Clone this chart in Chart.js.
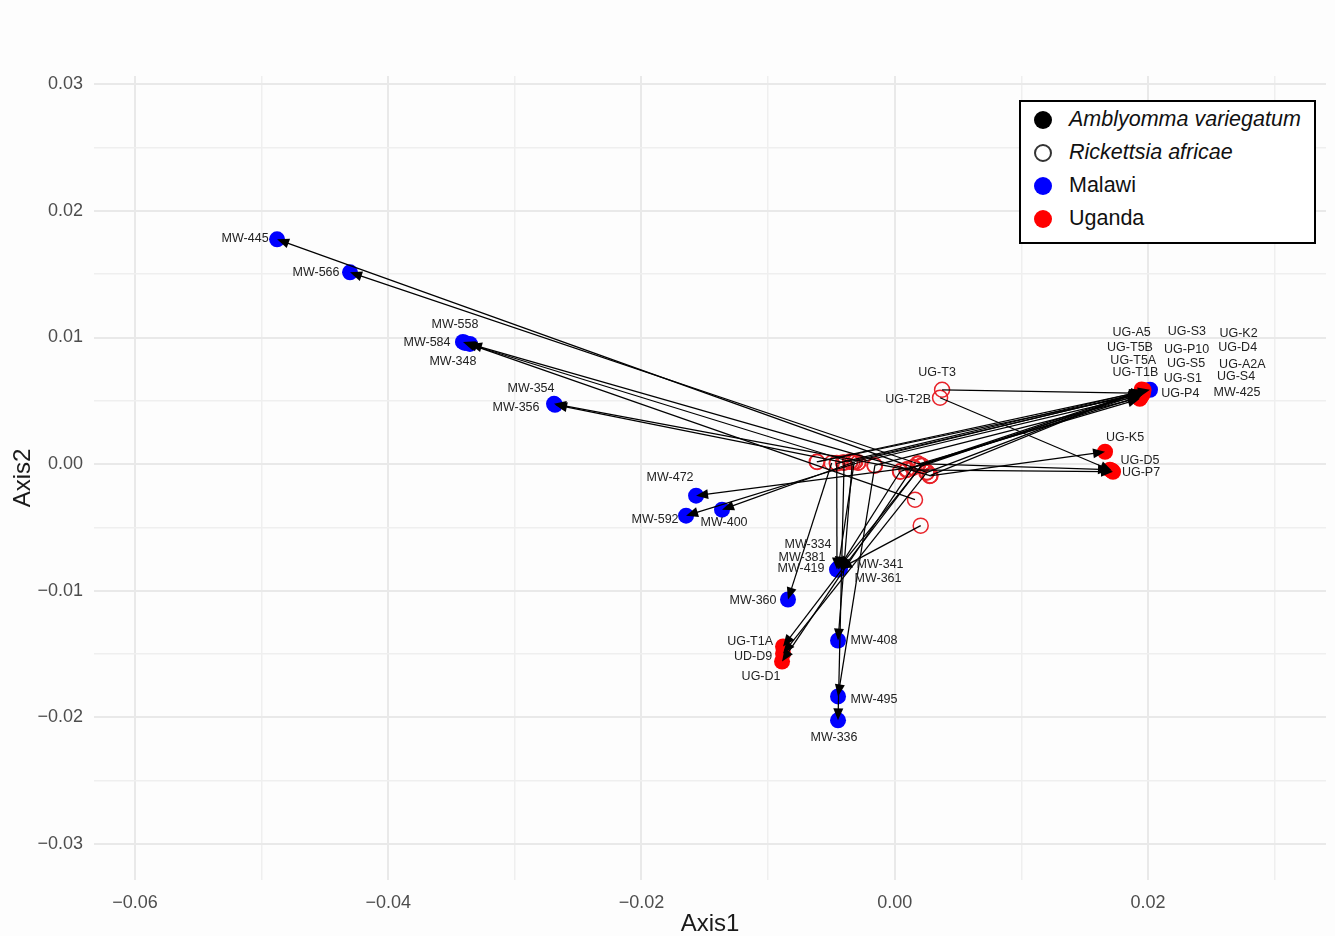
<!DOCTYPE html>
<html>
<head>
<meta charset="utf-8">
<script src="https://cdn.jsdelivr.net/npm/chart.js@4.4.1/dist/chart.umd.min.js"></script>
<style>
  html, body { margin: 0; padding: 0; background: #fdfdfd; }
  #wrap { position: relative; width: 1335px; height: 936px; }
  #legend {
    position: absolute; left: 1019px; top: 100px; width: 297px; height: 144px;
    box-sizing: border-box; border: 2.5px solid #000; background: #fff;
    font-family: "Liberation Sans", Arial, sans-serif; font-size: 21.5px; color: #111;
    padding-top: 1px;
  }
  .legend-item { height: 33px; display: flex; align-items: center; }
  .sym { width: 18px; height: 18px; border-radius: 50%; margin-left: 13px; margin-right: 17px; box-sizing: border-box; }
</style>
</head>
<body>
<div id="wrap">
  <canvas id="chart" width="1335" height="936"></canvas>
  <div id="legend"></div>
</div>
<script>
// tick labels
const xTickValues = [-0.06, -0.04, -0.02, 0, 0.02];
const yTickValues = [-0.03, -0.02, -0.01, 0, 0.01, 0.02, 0.03];

// Malawi samples: Amblyomma variegatum (filled) and Rickettsia africae (open) coordinates
const malawiNames = ["MW-445","MW-566","MW-558","MW-584","MW-348","MW-354","MW-356","MW-472","MW-592","MW-400",
                     "MW-334","MW-381","MW-419","MW-341","MW-361","MW-360","MW-408","MW-495","MW-336","MW-425"];
const malawiAmbX = [-0.04878,-0.04302,-0.03410,-0.03394,-0.03355,-0.02691,-0.02683,-0.01569,-0.01648,-0.01364,
                    -0.00448,-0.00456,-0.00440,-0.00432,-0.00448,-0.00843,-0.00448,-0.00448,-0.00448,0.02016];
const malawiAmbY = [0.01776,0.01515,0.00965,0.00957,0.00949,0.00476,0.00468,-0.00250,-0.00408,-0.00361,
                    -0.00827,-0.00834,-0.00819,-0.00827,-0.00834,-0.01071,-0.01395,-0.01837,-0.02026,0.00587];
const malawiRicX = [0.00253,0.00184,0.00160,-0.00353,0.00279,0.00095,-0.00408,0.00145,-0.00290,-0.00314,
                    -0.00320,-0.00458,0.00213,0.00205,0.00042,-0.00498,-0.00335,-0.00157,-0.00400,-0.00616];
const malawiRicY = [-0.00066,0.00002,-0.00282,0.00018,-0.00092,-0.00045,0.00013,-0.00027,0.00010,0.00018,
                    0.00015,0.00008,-0.00013,-0.00487,-0.00061,0.00008,0.00015,-0.00013,0.00010,0.00018];

// Uganda samples
const ugandaNames = ["UG-A5","UG-T5B","UG-T5A","UG-T1B","UG-S3","UG-P10","UG-S5","UG-S1","UG-P4","UG-K2","UG-D4",
                     "UG-A2A","UG-S4","UG-T3","UG-T2B","UG-K5","UG-D5","UG-P7","UG-T1A","UD-D9","UG-D1"];
const ugandaAmbX = [0.01950,0.01945,0.01955,0.01940,0.01960,0.01950,0.01945,0.01935,0.01955,0.01965,0.01950,
                    0.01940,0.01945,0.01960,0.01716,0.01661,0.01700,0.01724,-0.00882,-0.00882,-0.00890];
const ugandaAmbY = [0.00575,0.00560,0.00545,0.00525,0.00580,0.00555,0.00535,0.00515,0.00570,0.00585,0.00590,
                    0.00550,0.00565,0.00560,-0.00053,0.00097,-0.00045,-0.00061,-0.01442,-0.01497,-0.01561];
const ugandaRicX = [-0.00455,-0.00350,-0.00288,-0.00160,0.00045,0.00098,0.00148,0.00186,0.00215,0.00250,0.00282,
                    -0.00612,-0.00312,0.00374,0.00358,0.00276,0.00182,0.00093,0.00211,0.00255,0.00143];
const ugandaRicY = [0.00005,0.00020,0.00012,-0.00010,-0.00058,-0.00042,-0.00025,0.00000,-0.00015,-0.00068,-0.00090,
                    0.00016,0.00020,0.00587,0.00524,-0.00094,0.00004,-0.00047,-0.00011,-0.00064,-0.00029];

// label placement (pixel nudges from the point), labels drawn at the open circle for these
const labelAtRickettsia = ["UG-T3", "UG-T2B"];
const labelNudge = {
  "MW-445":[-32,-1],"MW-566":[-34,0],"MW-558":[-8,-17],"MW-584":[-38,0],"MW-348":[-17,18],
  "MW-354":[-23,-15],"MW-356":[-39,3],"MW-472":[-26,-18],"MW-592":[-31,4],"MW-400":[2,13],
  "MW-334":[-30,-24],"MW-381":[-35,-12],"MW-419":[-38,1],"MW-341":[40,-4],"MW-361":[40,9],
  "MW-360":[-35,1],"MW-408":[36,0],"MW-495":[36,3],"MW-336":[-4,17],"MW-425":[87,3],
  "UG-A5":[-10,-59],"UG-T5B":[-11,-46],"UG-T5A":[-9,-35],"UG-T1B":[-5,-25],"UG-S3":[44,-59],
  "UG-P10":[45,-44],"UG-S5":[45,-33],"UG-S1":[43,-20],"UG-P4":[38,2],"UG-K2":[95,-56],
  "UG-D4":[96,-42],"UG-A2A":[102,-30],"UG-S4":[95,-16],"UG-T3":[-5,-17],"UG-T2B":[-32,2],
  "UG-K5":[20,-14],"UG-D5":[30,-9],"UG-P7":[28,1],"UG-T1A":[-33,-5],"UD-D9":[-30,3],"UG-D1":[-21,15]
};

const BLUE = "#0000FF", RED = "#FF0000";
const X_MIN = -0.06324, X_MAX = 0.03406, Y_MIN = -0.03288, Y_MAX = 0.03067;

function pts(xs, ys) { return xs.map((x, i) => ({ x: x, y: ys[i] })); }

const samples = [];
malawiNames.forEach((n, i) => samples.push({ name: n, ax: malawiAmbX[i], ay: malawiAmbY[i], rx: malawiRicX[i], ry: malawiRicY[i] }));
ugandaNames.forEach((n, i) => samples.push({ name: n, ax: ugandaAmbX[i], ay: ugandaAmbY[i], rx: ugandaRicX[i], ry: ugandaRicY[i] }));

function near(v, list) { return list.some(t => Math.abs(v - t) < 1e-9); }
function fmt(v) { return (Math.abs(v) < 1e-9 ? 0 : v).toFixed(2).replace("-", "\u2212"); }

// minor grid lines halfway between labelled ticks, kept inside the panel
function withMinor(vals, lo, hi) {
  const out = [];
  const step = vals[1] - vals[0];
  for (let i = 0; i < vals.length; i++) {
    out.push(vals[i] - step / 2);
    out.push(vals[i]);
  }
  out.push(vals[vals.length - 1] + step / 2);
  return out.filter(v => v >= lo && v <= hi);
}

const arrowPlugin = {
  id: "arrows",
  afterDatasetsDraw(chart) {
    const ctx = chart.ctx, xs = chart.scales.x, ys = chart.scales.y;
    ctx.save();
    ctx.strokeStyle = "#000";
    ctx.fillStyle = "#000";
    ctx.lineWidth = 1.25;
    samples.forEach(s => {
      const x0 = xs.getPixelForValue(s.rx), y0 = ys.getPixelForValue(s.ry);
      const x1 = xs.getPixelForValue(s.ax), y1 = ys.getPixelForValue(s.ay);
      const ang = Math.atan2(y1 - y0, x1 - x0);
      const len = 12, hw = 5;
      ctx.beginPath();
      ctx.moveTo(x0, y0);
      ctx.lineTo(x1 - Math.cos(ang) * len * 0.8, y1 - Math.sin(ang) * len * 0.8);
      ctx.stroke();
      const bx = x1 - Math.cos(ang) * len, by = y1 - Math.sin(ang) * len;
      ctx.beginPath();
      ctx.moveTo(x1, y1);
      ctx.lineTo(bx - Math.sin(ang) * hw, by + Math.cos(ang) * hw);
      ctx.lineTo(bx + Math.sin(ang) * hw, by - Math.cos(ang) * hw);
      ctx.closePath();
      ctx.fill();
    });
    ctx.restore();
  },
  afterDraw(chart) {
    const ctx = chart.ctx, xs = chart.scales.x, ys = chart.scales.y;
    ctx.save();
    ctx.font = "12.5px 'Liberation Sans', Arial, sans-serif";
    ctx.fillStyle = "#222";
    ctx.textAlign = "center";
    ctx.textBaseline = "middle";
    samples.forEach(s => {
      const atRic = labelAtRickettsia.includes(s.name);
      const px = xs.getPixelForValue(atRic ? s.rx : s.ax);
      const py = ys.getPixelForValue(atRic ? s.ry : s.ay);
      const d = labelNudge[s.name] || [0, -14];
      ctx.fillText(s.name, px + d[0], py + d[1]);
    });
    ctx.restore();
  }
};

const tickFont = { family: "'Liberation Sans', Arial, sans-serif", size: 18 };
const titleFont = { family: "'Liberation Sans', Arial, sans-serif", size: 24, lineHeight: 1 };

function gridColor(labels) {
  return c => (c.tick && near(c.tick.value, labels)) ? "#e9e9e9" : "#efefef";
}
function gridWidth(labels) {
  return c => (c.tick && near(c.tick.value, labels)) ? 2 : 1.5;
}

new Chart(document.getElementById("chart"), {
  type: "scatter",
  data: {
    datasets: [
      {
        label: "Uganda",
        data: pts(ugandaAmbX, ugandaAmbY),
        backgroundColor: RED, borderColor: RED, pointRadius: 8, borderWidth: 0
      },
      {
        label: "Malawi",
        data: pts(malawiAmbX, malawiAmbY),
        backgroundColor: BLUE, borderColor: BLUE, pointRadius: 8, borderWidth: 0
      },
      {
        label: "Rickettsia africae",
        data: pts(malawiRicX.concat(ugandaRicX), malawiRicY.concat(ugandaRicY)),
        backgroundColor: "rgba(0,0,0,0)", borderColor: "#e8232a", pointRadius: 7.5, borderWidth: 1.5
      }
    ]
  },
  options: {
    responsive: false,
    animation: false,
    devicePixelRatio: 1,
    layout: { padding: { top: 76, right: 0, left: 0, bottom: 0 } },
    plugins: { legend: { display: false }, tooltip: { enabled: false } },
    scales: {
      x: {
        type: "linear",
        min: X_MIN, max: X_MAX,
        afterBuildTicks: s => { s.ticks = withMinor(xTickValues, X_MIN, X_MAX).map(v => ({ value: v })); },
        afterFit: s => { s.height = 56; },
        border: { display: false },
        grid: { drawTicks: false, color: gridColor(xTickValues), lineWidth: gridWidth(xTickValues) },
        ticks: {
          autoSkip: false, maxRotation: 0, padding: 12, color: "#4d4d4d", font: tickFont,
          callback: v => near(v, xTickValues) ? fmt(v) : ""
        },
        title: { display: true, text: "Axis1", color: "#1a1a1a", font: titleFont, padding: { top: 0, bottom: 0 } }
      },
      y: {
        type: "linear",
        min: Y_MIN, max: Y_MAX,
        afterBuildTicks: s => { s.ticks = withMinor(yTickValues, Y_MIN, Y_MAX).map(v => ({ value: v })); },
        afterFit: s => { s.width = 94; },
        border: { display: false },
        grid: { drawTicks: false, color: gridColor(yTickValues), lineWidth: gridWidth(yTickValues) },
        ticks: {
          autoSkip: false, padding: 11, color: "#4d4d4d", font: tickFont,
          callback: v => near(v, yTickValues) ? fmt(v) : ""
        },
        title: { display: true, text: "Axis2", color: "#1a1a1a", font: titleFont, padding: { top: 11, bottom: 0 } }
      }
    }
  },
  plugins: [arrowPlugin]
});

// legend
const legendItems = [
  { text: "Amblyomma variegatum", italic: true, fill: "#000", border: "none" },
  { text: "Rickettsia africae", italic: true, fill: "transparent", border: "2px solid #333" },
  { text: "Malawi", italic: false, fill: BLUE, border: "none" },
  { text: "Uganda", italic: false, fill: RED, border: "none" }
];
const legend = document.getElementById("legend");
legendItems.forEach(it => {
  const row = document.createElement("div");
  row.className = "legend-item";
  row.innerHTML = `<span class="sym" style="background:${it.fill}; border:${it.border};"></span>` +
    `<span style="font-style:${it.italic ? "italic" : "normal"};">${it.text}</span>`;
  legend.appendChild(row);
});
</script>
</body>
</html>
